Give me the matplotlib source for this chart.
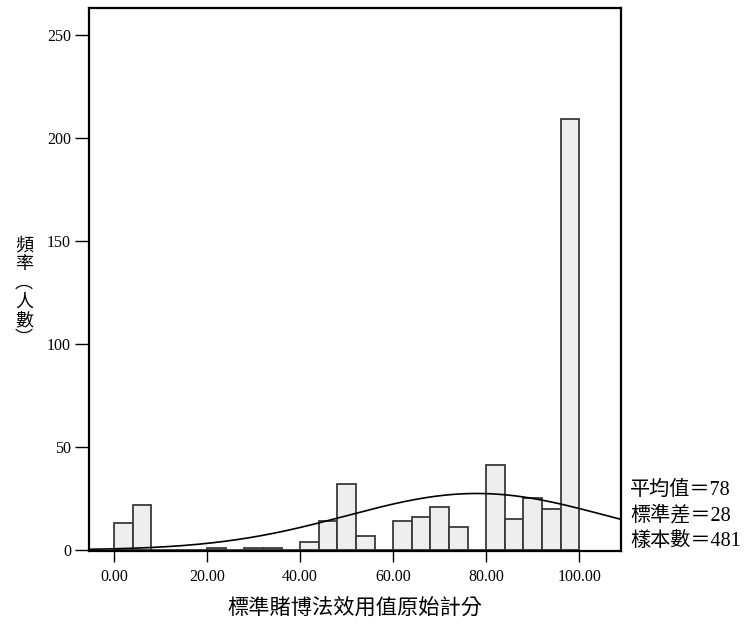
import numpy as np
import matplotlib
matplotlib.use("Agg")
import matplotlib.pyplot as plt

# ---- data ----
bin_left = [0, 4, 8, 12, 16, 20, 24, 28, 32, 36, 40, 44, 48, 52, 56,
            60, 64, 68, 72, 76, 80, 84, 88, 92, 96]
counts = [13, 22, 0, 0, 0, 1, 0, 1, 1, 0, 4, 14, 32, 7, 0,
          14, 16, 21, 11, 0, 41, 15, 25, 20, 209]
bin_width = 4
mean_val = 78
sd_val = 28
n_val = 481
x_ticks = [0, 20, 40, 60, 80, 100]
y_ticks = [0, 50, 100, 150, 200, 250]
x_label = "標準賭博法效用值原始計分"
y_label_chars = ["頻", "率", "︵", "人", "數", "︶"]
stats_lines = [f"平均值＝{mean_val}", f"標準差＝{sd_val}", f"樣本數＝{n_val}"]

serif = ["Liberation Serif", "DejaVu Serif"]
cjk = ["Noto Sans CJK TC", "Liberation Serif", "DejaVu Sans"]
mixed = ["Liberation Serif", "Noto Sans CJK TC", "DejaVu Sans"]

fig = plt.figure(figsize=(7.48, 6.24), dpi=100)
ax = fig.add_axes([89 / 748, 1 - 551 / 624, (621 - 89) / 748, (551 - 8) / 624])

ax.bar(bin_left, counts, width=bin_width, align="edge",
       color="#edeeed", edgecolor="#3a3a3a", linewidth=1.3, zorder=2)

xlim = (-5.4, 109)
xs = np.linspace(xlim[0], xlim[1], 400)
ys = n_val * bin_width / (sd_val * np.sqrt(2 * np.pi)) * np.exp(-0.5 * ((xs - mean_val) / sd_val) ** 2)
ax.plot(xs, ys, color="black", linewidth=1.2, zorder=3)

ax.set_xlim(*xlim)
ax.set_ylim(-0.5, 263)
ax.set_xticks(x_ticks)
ax.set_xticklabels([f"{v:.2f}" for v in x_ticks], fontfamily=serif, fontsize=11.5)
ax.set_yticks(y_ticks)
ax.set_yticklabels([str(v) for v in y_ticks], fontfamily=serif, fontsize=11.5)
ax.tick_params(axis="x", direction="out", length=8, width=1, pad=5)
ax.tick_params(axis="y", direction="out", length=10, width=1, pad=3)
for s in ax.spines.values():
    s.set_linewidth(1.6)
    s.set_color("black")

fig.text(355 / 748, 1 - 608 / 624, x_label, ha="center", va="center",
         fontsize=15.3, family=cjk)
fig.text(24 / 748, 1 - 292 / 624, "\n".join(y_label_chars), ha="center", va="center",
         fontsize=13, family=cjk, linespacing=1.05)

for i, line in enumerate(stats_lines):
    fig.text(630 / 748, 1 - (490 + i * 26) / 624, line, ha="left", va="center",
             fontsize=14.5, family=mixed)

fig.savefig("out.png", dpi=100)
